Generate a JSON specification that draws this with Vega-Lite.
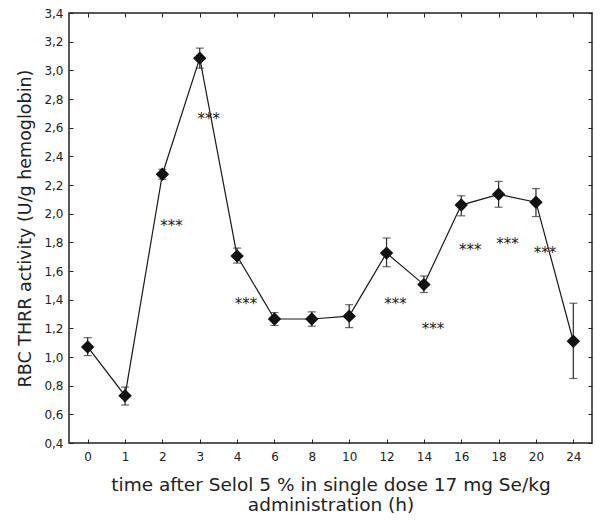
{
  "$schema": "https://vega.github.io/schema/vega-lite/v6.json",
  "autosize": {"type": "none"},
  "padding": {"left": 69, "top": 13, "right": 11, "bottom": 77},
  "width": 523,
  "height": 430,
  "background": "white",
  "config": {
    "view": {"stroke": "#222", "strokeWidth": 1.5},
    "font": "DejaVu Sans",
    "axis": {"domain": false, "grid": false, "labelFont": "DejaVu Sans", "titleFont": "DejaVu Sans", "labelColor": "#222", "titleColor": "#222", "tickColor": "#222", "titleFontWeight": "normal"}
  },
  "datasets": {
    "main": [
      {"time": "0", "mean": 1.07, "lo": 1.01, "hi": 1.135},
      {"time": "1", "mean": 0.73, "lo": 0.665, "hi": 0.79},
      {"time": "2", "mean": 2.275, "lo": 2.24, "hi": 2.31},
      {"time": "3", "mean": 3.085, "lo": 3.015, "hi": 3.155},
      {"time": "4", "mean": 1.705, "lo": 1.655, "hi": 1.76},
      {"time": "6", "mean": 1.265, "lo": 1.22, "hi": 1.31},
      {"time": "8", "mean": 1.265, "lo": 1.215, "hi": 1.315},
      {"time": "10", "mean": 1.285, "lo": 1.205, "hi": 1.365},
      {"time": "12", "mean": 1.725, "lo": 1.63, "hi": 1.83},
      {"time": "14", "mean": 1.505, "lo": 1.45, "hi": 1.565},
      {"time": "16", "mean": 2.06, "lo": 1.985, "hi": 2.125},
      {"time": "18", "mean": 2.135, "lo": 2.045, "hi": 2.225},
      {"time": "20", "mean": 2.08, "lo": 1.98, "hi": 2.175},
      {"time": "24", "mean": 1.11, "lo": 0.85, "hi": 1.375}
    ],
    "stars": [
      {"time": "2", "pos": 1.935, "label": "***"},
      {"time": "3", "pos": 2.68, "label": "***"},
      {"time": "4", "pos": 1.39, "label": "***"},
      {"time": "12", "pos": 1.39, "label": "***"},
      {"time": "14", "pos": 1.218, "label": "***"},
      {"time": "16", "pos": 1.77, "label": "***"},
      {"time": "18", "pos": 1.81, "label": "***"},
      {"time": "20", "pos": 1.746, "label": "***"}
    ]
  },
  "resolve": {"axis": {"x": "independent", "y": "independent"}},
  "layer": [
    {
      "data": {"name": "main"},
      "mark": {"type": "line", "color": "#1a1a1a", "strokeWidth": 1.2},
      "encoding": {
        "x": {
          "field": "time", "type": "ordinal",
          "sort": ["0","1","2","3","4","6","8","10","12","14","16","18","20","24"],
          "scale": {"type": "point", "padding": 0.5},
          "axis": {"orient": "bottom", "labelAngle": 0, "tickSize": -4, "labelPadding": 12, "labelFontSize": 12,
            "title": ["time after Selol 5 % in single dose 17 mg Se/kg", "administration (h)"],
            "titleFontSize": 18.5, "titlePadding": 13, "titleLineHeight": 20}
        },
        "y": {
          "field": "mean", "type": "quantitative",
          "scale": {"domain": [0.4, 3.4], "nice": false, "zero": false},
          "axis": {"orient": "left", "values": [0.4,0.6,0.8,1.0,1.2,1.4,1.6,1.8,2.0,2.2,2.4,2.6,2.8,3.0,3.2,3.4],
            "labelExpr": "replace(format(datum.value, '.1f'), '.', ',')",
            "tickSize": -4, "labelPadding": 10, "labelFontSize": 12,
            "title": "RBC THRR activity (U/g hemoglobin)", "titleFontSize": 17.5, "titlePadding": 9}
        }
      }
    },
    {
      "data": {"name": "main"},
      "mark": {"type": "rule", "color": "#2a2a2a", "strokeWidth": 1.2},
      "encoding": {
        "x": {"field": "time", "type": "ordinal", "sort": ["0","1","2","3","4","6","8","10","12","14","16","18","20","24"],
          "axis": {"orient": "top", "labels": false, "title": null, "tickSize": -4}},
        "y": {"field": "lo", "type": "quantitative",
          "axis": {"orient": "right", "labels": false, "title": null, "tickSize": -4,
            "values": [0.4,0.6,0.8,1.0,1.2,1.4,1.6,1.8,2.0,2.2,2.4,2.6,2.8,3.0,3.2,3.4]}},
        "y2": {"field": "hi"}
      }
    },
    {
      "data": {"name": "main"},
      "mark": {"type": "tick", "color": "#2a2a2a", "size": 8, "thickness": 1.2},
      "encoding": {
        "x": {"field": "time", "type": "ordinal", "sort": ["0","1","2","3","4","6","8","10","12","14","16","18","20","24"], "axis": null},
        "y": {"field": "lo", "type": "quantitative", "axis": null}
      }
    },
    {
      "data": {"name": "main"},
      "mark": {"type": "tick", "color": "#2a2a2a", "size": 8, "thickness": 1.2},
      "encoding": {
        "x": {"field": "time", "type": "ordinal", "sort": ["0","1","2","3","4","6","8","10","12","14","16","18","20","24"], "axis": null},
        "y": {"field": "hi", "type": "quantitative", "axis": null}
      }
    },
    {
      "data": {"name": "main"},
      "mark": {"type": "point", "shape": "diamond", "filled": true, "color": "#111", "size": 180, "opacity": 1},
      "encoding": {
        "x": {"field": "time", "type": "ordinal", "sort": ["0","1","2","3","4","6","8","10","12","14","16","18","20","24"], "axis": null},
        "y": {"field": "mean", "type": "quantitative", "axis": null}
      }
    },
    {
      "data": {"name": "stars"},
      "mark": {"type": "text", "font": "DejaVu Sans", "fontSize": 15, "color": "#222", "baseline": "alphabetic", "dx": 9, "dy": 8},
      "encoding": {
        "x": {"field": "time", "type": "ordinal", "sort": ["0","1","2","3","4","6","8","10","12","14","16","18","20","24"], "axis": null},
        "y": {"field": "pos", "type": "quantitative", "axis": null},
        "text": {"field": "label"}
      }
    }
  ]
}
